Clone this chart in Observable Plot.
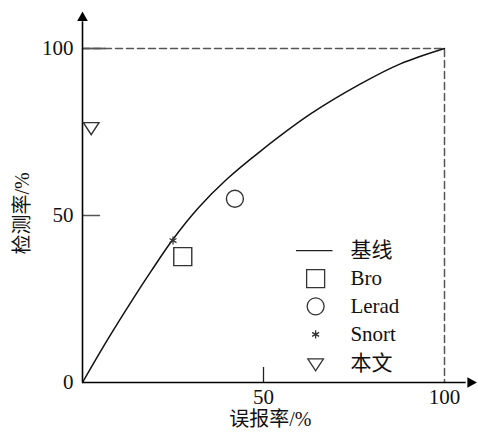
<!DOCTYPE html>
<html><head><meta charset="utf-8">
<script src="https://cdn.jsdelivr.net/npm/d3@7"></script>
<script src="https://cdn.jsdelivr.net/npm/@observablehq/plot@0.6"></script>
<style>
body{margin:0;background:#fff}
</style>
</head><body><div id="chart"></div>
<script>
// Baseline curve
const baselineX = [0, 6.8, 13.7, 19.0, 24.8, 32.1, 40.0, 49.2, 63.0, 76.8, 87.8, 100];
const baselineY = [0, 12.6, 24.6, 33.4, 42.6, 52.4, 61.0, 69.3, 80.4, 89.4, 95.4, 100];
// Method points
const methods = ["Bro", "Lerad", "Snort", "本文"];
const methodX = [27.7, 42.1, 25.0, 2.4];
const methodY = [37.7, 55.0, 42.5, 76.4];
// Ticks
const yTicks = [0, 50, 100];
const xTicks = [50, 100];
const xTitle = "误报率/%";
const yTitle = "检测率/%";
const legendLabels = ["基线", "Bro", "Lerad", "Snort", "本文"];

// custom symbols
const sq = {draw(c, s){ const r = Math.sqrt(s/Math.PI); c.moveTo(-r,-r); c.lineTo(r,-r); c.lineTo(r,r); c.lineTo(-r,r); c.closePath(); }};
const triDown = {draw(c, s){ const r = Math.sqrt(s/Math.PI); c.moveTo(-r,-0.6*r); c.lineTo(r,-0.6*r); c.lineTo(0,0.95*r); c.closePath(); }};
const arrowUp = {draw(c, s){ const r = Math.sqrt(s/Math.PI); c.moveTo(0,-1.2*r); c.lineTo(r,0.6*r); c.lineTo(-r,0.6*r); c.closePath(); }};
const arrowRight = {draw(c, s){ const r = Math.sqrt(s/Math.PI); c.moveTo(1.2*r,0); c.lineTo(-0.6*r,r); c.lineTo(-0.6*r,-r); c.closePath(); }};
const symbolOf = {"Bro": sq, "Lerad": "circle", "Snort": "asterisk", "本文": triDown};
const radiusOf = {"Bro": 9, "Lerad": 8.5, "Snort": 3.8, "本文": 7.8};

const baseline = baselineX.map((x, i) => ({x, y: baselineY[i]}));
const points = methods.map((m, i) => ({m, x: methodX[i], y: methodY[i]}));

// legend layout (data units)
const legX0 = 59.1, legX1 = 69.2, legMark = 64.4, legText = 74.0;
const legRows = [39.5, 31.1, 22.8, 14.4, 5.7];
const legend = legendLabels.map((t, i) => ({t, y: legRows[i]}));

const gray = "#555";
const fs = 21;

const marks = [
  Plot.line([{x:0,y:100},{x:100,y:100},{x:100,y:0}], {x:"x", y:"y", stroke: gray, strokeWidth: 1.5, strokeDasharray: "7,4"}),
  Plot.ruleY([100], {x1: 0, x2: 6.4, stroke: gray, strokeWidth: 1.8}),
  Plot.ruleY([50], {x1: 0, x2: 5, stroke: gray, strokeWidth: 1.5}),
  Plot.ruleX([50], {y1: 0, y2: 4.5, stroke: "#222", strokeWidth: 1.3}),
  Plot.ruleX([0], {y1: 0, y2: 108, stroke: "#000", strokeWidth: 1.6}),
  Plot.ruleY([0], {x1: 0, x2: 106, stroke: "#000", strokeWidth: 1.6}),
  Plot.dot([{x:0, y:109.2}], {x:"x", y:"y", symbol: arrowUp, r: 5.3, fill: "#000", stroke: "none"}),
  Plot.dot([{x:107.2, y:0}], {x:"x", y:"y", symbol: arrowRight, r: 5.3, fill: "#000", stroke: "none"}),
  Plot.line(baseline, {x:"x", y:"y", curve: "catmull-rom", stroke: "#111", strokeWidth: 1.5}),
  ...points.map(p => Plot.dot([p], {x:"x", y:"y", symbol: symbolOf[p.m], r: radiusOf[p.m], stroke: "#333", strokeWidth: p.m === "Snort" ? 1.3 : 1.4, fill: "none"})),
  Plot.text(yTicks, {x: 0, y: d => d, text: d => String(d), dx: -9, textAnchor: "end", fontSize: fs, fill: "#111", className: "tk"}),
  Plot.text(xTicks, {x: d => d, y: 0, text: d => String(d), dy: 15, fontSize: fs, fill: "#111"}),
  Plot.text([xTitle], {x: 51.9, y: 0, text: d => d, dy: 37, fontSize: 20, fill: "#111"}),
  Plot.text([yTitle], {x: 0, y: 50.6, text: d => d, dx: -60, rotate: -90, fontSize: 20, fill: "#111"}),
  Plot.ruleY([legRows[0]], {x1: legX0, x2: legX1, stroke: "#222", strokeWidth: 1.3}),
  ...methods.map((m, i) => Plot.dot([{x: legMark, y: legRows[i+1]}], {x:"x", y:"y", symbol: symbolOf[m], r: radiusOf[m], stroke: "#333", strokeWidth: 1.3, fill: "none"})),
  Plot.text(legend, {x: legText, y: "y", text: "t", textAnchor: "start", fontSize: fs, fill: "#111"})
];

const chart = Plot.plot({
  width: 478, height: 434,
  marginLeft: 82, marginRight: 34, marginTop: 48, marginBottom: 52,
  x: {domain: [0, 100], axis: null},
  y: {domain: [0, 100], axis: null},
  style: {background: "#fff", overflow: "visible"},
  marks
});
document.getElementById("chart").appendChild(chart);
// force serif font family inline on every text element
d3.select(chart).selectAll("text").style("font-family", '"Liberation Serif", "DejaVu Serif", serif');
d3.select(chart).selectAll("text").each(function(){
  if (/[\u4e00-\u9fff]/.test(this.textContent)) this.style.fontFamily = '"Liberation Serif", "Noto Sans CJK SC", serif';
});
</script>
</body></html>
